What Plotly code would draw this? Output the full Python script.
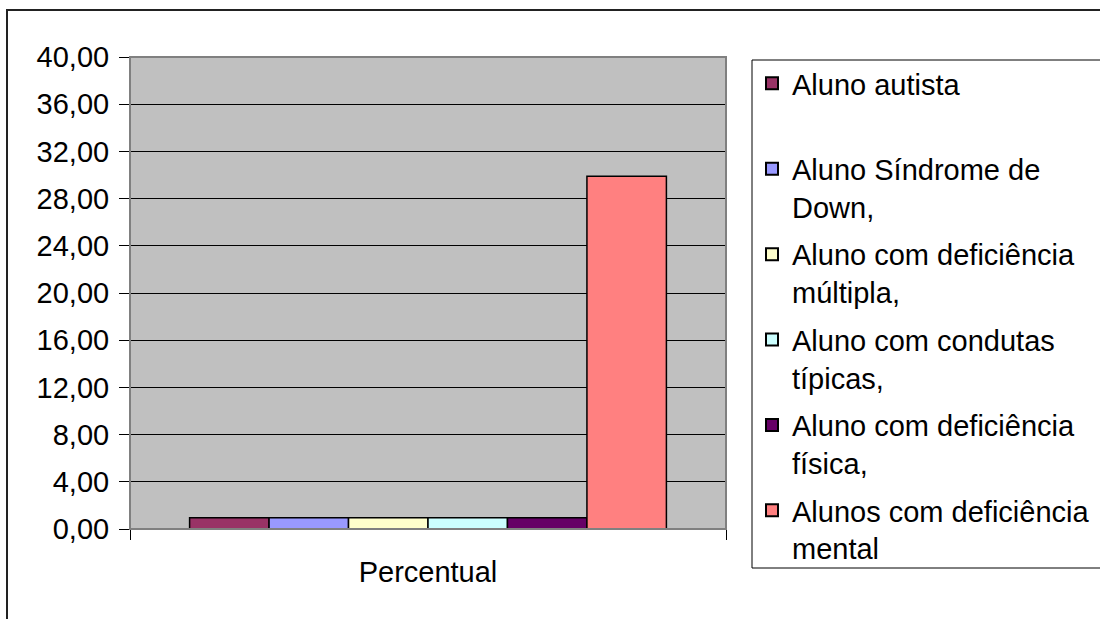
import plotly.graph_objects as go

categories = ["Percentual"]
series_names = [
    "Aluno autista",
    "Aluno Síndrome de<br>Down,",
    "Aluno com deficiência<br>múltipla,",
    "Aluno com condutas<br>típicas,",
    "Aluno com deficiência<br>física,",
    "Alunos com deficiência<br>mental",
]
series_values = [0.95, 0.95, 0.95, 0.95, 0.95, 29.9]
series_colors = ["#993366", "#9999FF", "#FFFFCC", "#CCFFFF", "#660066", "#FF8080"]
y_ticks = [0, 4, 8, 12, 16, 20, 24, 28, 32, 36, 40]

FONT = "Liberation Sans, Arial, sans-serif"

fig = go.Figure()
for i, (name, val, col) in enumerate(zip(series_names, series_values, series_colors)):
    label = name if "<br>" in name else name + "<br> "
    fig.add_trace(go.Bar(
        x=categories, y=[val], name=label,
        marker=dict(color=col, line=dict(color="black", width=1.5)),
        legendgroup=f"g{i}",
    ))

L, R, T, B = 130, 374, 57, 90
W, H = 1100, 619
pw = W - L - R
ph = H - T - B


def px_x(v):
    return (v - L) / pw


def px_y(v):
    return (H - B - v) / ph


fig.update_layout(
    width=W, height=H,
    margin=dict(l=L, r=R, t=T, b=B, pad=0, autoexpand=False),
    paper_bgcolor="white",
    plot_bgcolor="#C0C0C0",
    barmode="group", bargap=0.2, bargroupgap=0,
    separators=",.",
    font=dict(family=FONT, size=29, color="black"),
    showlegend=True,
    legend=dict(
        x=px_x(752), y=px_y(58), xanchor="left", yanchor="top",
        bgcolor="rgba(0,0,0,0)", borderwidth=0,
        font=dict(family=FONT, size=29, color="black"),
        tracegroupgap=7, valign="top", itemsizing="constant",
        traceorder="grouped", maxheight=600,
    ),
    xaxis=dict(
        type="category", showgrid=False, showline=True, linecolor="black", linewidth=1,
        ticks="outside", tickson="boundaries", ticklen=10, tickcolor="black",
        tickfont=dict(family=FONT, size=29), ticklabelstandoff=17,
    ),
    yaxis=dict(
        range=[0, 40], tickvals=y_ticks, tickformat=".2f",
        showgrid=True, gridcolor="black", gridwidth=1,
        showline=True, linecolor="black", linewidth=1,
        ticks="outside", ticklen=10, tickcolor="black",
        tickfont=dict(family=FONT, size=29), ticklabelstandoff=4,
        zeroline=False,
    ),
)

# plot-area gray border (top and right)
fig.add_shape(type="rect", xref="paper", yref="paper", x0=0, x1=1, y0=0, y1=1,
              line=dict(color="#808080", width=2), layer="above")
# legend box (extends past the right edge, as in the original)
fig.add_shape(type="rect", xref="paper", yref="paper",
              x0=px_x(752), x1=px_x(1110), y0=px_y(568), y1=px_y(60),
              line=dict(color="black", width=1), fillcolor="white", layer="below")
# outer chart border
fig.add_shape(type="rect", xref="paper", yref="paper",
              x0=px_x(7), x1=px_x(1200), y0=px_y(700), y1=px_y(10),
              line=dict(color="#222222", width=2), layer="above")

fig.write_html("out.html", config={"displayModeBar": False},
               post_script="document.body.style.margin='0';document.body.style.overflow='hidden';")
